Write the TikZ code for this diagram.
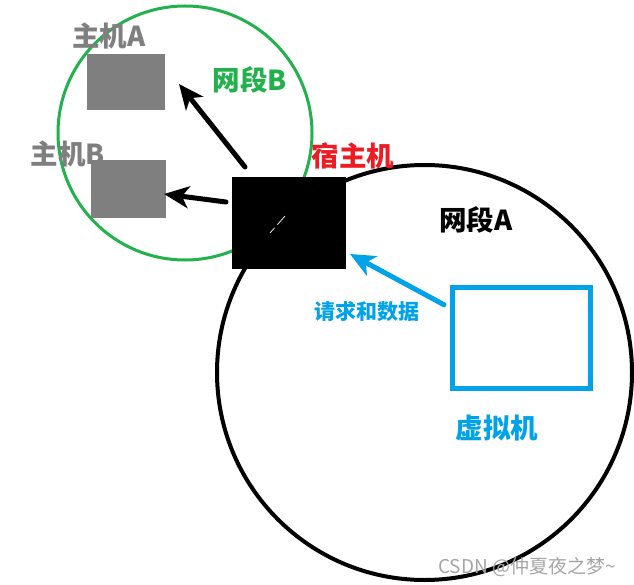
\documentclass[tikz,border=0pt]{standalone}
\usepackage{fontspec}
\setmainfont{Noto Sans CJK SC}
\usetikzlibrary{arrows.meta}
\definecolor{hostgray}{RGB}{127,127,127}
\definecolor{segbgreen}{RGB}{34,177,76}
\definecolor{hostred}{RGB}{237,28,36}
\definecolor{vmblue}{RGB}{0,162,232}
\definecolor{markgray}{RGB}{165,165,165}
\tikzset{
  ring/.style={circle, draw, inner sep=0pt, outer sep=0pt},
  graybox/.style={fill=hostgray, inner sep=0pt, outer sep=0pt},
  bigtext/.style={inner sep=0pt, font=\fontsize{27.5}{31}\selectfont\bfseries},
  smalltext/.style={inner sep=0pt, font=\fontsize{21}{25}\selectfont\bfseries},
  fatarrow/.style={line width=5pt, line cap=round,
    -{Stealth[length=25pt,width=22pt,inset=7pt]}},
}
\begin{document}
\begin{tikzpicture}[x=1pt,y=-1pt]
\useasboundingbox (0,0) rectangle (634,585);
% circles
\node[ring, draw=segbgreen, line width=3pt, minimum size=254pt] (segB) at (185,133) {};
\node[ring, draw=black, line width=4pt, minimum size=415pt] (segA) at (424.5,372.5) {};
% boxes
\node[graybox, minimum width=78pt, minimum height=56pt] (hA) at (126,82) {};
\node[graybox, minimum width=75pt, minimum height=58pt] (hB) at (128.5,189) {};
\node[fill=black, inner sep=0pt, outer sep=0pt, minimum width=114pt, minimum height=92pt] (host) at (289,223) {};
\draw[white, line width=0.7pt, dash pattern=on 7pt off 4pt on 12pt off 2pt]
  ([shift={(-19,10)}]host.center) -- ([shift={(-4,-7)}]host.center);
\node[draw=vmblue, line width=5pt, inner sep=0pt, outer sep=0pt, minimum width=138pt, minimum height=101pt] (vm) at (521.5,337.75) {};
% arrows
\draw[fatarrow] ([shift={(13,-10)}]host.north west) -- ([shift={(14,-26)}]hA.south east);
\draw[fatarrow] ([shift={(-6,-21)}]host.west) -- ([shift={(-2,5)}]hB.east);
\draw[fatarrow, vmblue] ([shift={(-8.5,17.5)}]vm.north west) -- ([shift={(4,-15)}]host.south east);
% labels
\node[bigtext, text=hostgray] (lA) at (109,36) {主机A};
\node[bigtext, text=hostgray] (lB) at (68,154) {主机B};
\node[bigtext, text=segbgreen] (lsegB) at (250,80) {网段B};
\node[bigtext, text=hostred] (lhost) at (353,156) {宿主机};
\node[bigtext, text=black] (lsegA) at (476,220) {网段A};
\node[smalltext, text=vmblue] (ldata) at (367,312) {请求和数据};
\node[bigtext, text=vmblue] (lvm) at (497,428) {虚拟机};
\node[inner sep=0pt, text=markgray, font=\fontsize{19}{22}\selectfont] (mark) at (527,567) {CSDN @仲夏夜之梦\textasciitilde};
\end{tikzpicture}
\end{document}
